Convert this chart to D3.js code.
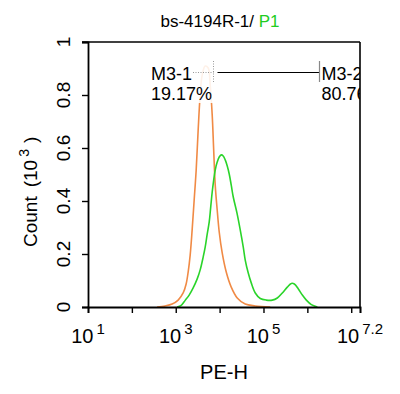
<!DOCTYPE html>
<html><head><meta charset="utf-8">
<script src="https://cdn.jsdelivr.net/npm/d3@7"></script>
<style>
body{margin:0;background:#fff;}
text{font-family:"Liberation Sans",Arial,sans-serif;fill:#000;}
</style></head>
<body><svg id="c" width="400" height="394"></svg>
<script>
// Data (x in log10 units of PE-H, y in counts x10^3)
const controlX = [2.575,2.758,2.918,3.055,3.169,3.237,3.283,3.329,3.374,3.420,3.466,3.511,3.557,3.603,3.671,3.740,3.785,3.831,3.865,3.900,3.945,3.991,4.059,4.151,4.265,4.402,4.584,4.813,5.155];
const controlY = [0,0.004,0.011,0.026,0.053,0.087,0.132,0.196,0.291,0.404,0.517,0.668,0.800,0.875,0.909,0.902,0.838,0.725,0.592,0.460,0.366,0.283,0.204,0.132,0.075,0.034,0.011,0.004,0];
const sampleX = [3.032,3.123,3.215,3.306,3.397,3.489,3.557,3.626,3.671,3.717,3.763,3.797,3.831,3.865,3.900,3.945,3.991,4.037,4.082,4.128,4.174,4.219,4.265,4.311,4.395,4.470,4.539,4.584,4.653,4.721,4.813,4.927,5.064,5.201,5.315,5.429,5.543,5.635,5.703,5.795,5.886,5.977,6.091,6.228];
const sampleY = [0,0.006,0.025,0.045,0.072,0.106,0.140,0.189,0.226,0.275,0.321,0.377,0.434,0.479,0.517,0.547,0.566,0.574,0.570,0.555,0.532,0.502,0.460,0.415,0.355,0.291,0.226,0.177,0.128,0.091,0.053,0.032,0.026,0.026,0.034,0.053,0.075,0.089,0.087,0.068,0.045,0.026,0.009,0];
const xTickExps = ["1","3","5","7.2"];
const yTicks = [0,0.2,0.4,0.6,0.8,1];
const gateNames = ["M3-1","M3-2"];
const gatePcts = ["19.17%","80.76%"];
const gateEdges = [3.85, 6.27]; // log10 positions of gate edges

const svg = d3.select("#c");
const L=88,R=360,T=42,B=307;
const x = d3.scaleLog().domain([10, Math.pow(10,7.2)]).range([L,R]);
const y = d3.scaleLinear().domain([0,1]).range([B,T]);

// title
const title = svg.append("text").attr("x",220).attr("y",27).attr("text-anchor","middle").style("font-size","17px");
title.append("tspan").text("bs-4194R-1/ ");
title.append("tspan").style("fill","#22cc22").text("P1");

svg.append("defs").append("clipPath").attr("id","pc").append("rect").attr("x",L).attr("y",T).attr("width",R-L).attr("height",B-T);

const g = svg.append("g").attr("clip-path","url(#pc)");
const line = d3.line().x(d=>x(Math.pow(10,d[0]))).y(d=>y(d[1])).curve(d3.curveCatmullRom.alpha(0.5));
g.append("path").datum(d3.zip(controlX,controlY)).attr("d",line).attr("fill","none").attr("stroke","#f08a45").attr("stroke-width",1.6);
g.append("path").datum(d3.zip(sampleX,sampleY)).attr("d",line).attr("fill","none").attr("stroke","#2ad42a").attr("stroke-width",1.6);

// gate labels with translucent background
const gx1 = Math.round(x(Math.pow(10,gateEdges[0])))+0.5, gx2 = Math.round(x(Math.pow(10,gateEdges[1])))+0.5;
g.append("rect").attr("x",150).attr("y",58).attr("width",gx1-150).attr("height",45).attr("fill","#fff").attr("opacity",0.88);
g.append("line").attr("x1",gx1).attr("x2",gx1).attr("y1",61).attr("y2",82).attr("stroke","#999").attr("stroke-width",1).attr("stroke-dasharray","1,1.5");
g.append("line").attr("x1",193).attr("x2",gx1).attr("y1",72.5).attr("y2",72.5).attr("stroke","#999").attr("stroke-width",1).attr("stroke-dasharray","1,1.5");
g.append("line").attr("x1",gx1+4).attr("x2",gx2).attr("y1",72.5).attr("y2",72.5).attr("stroke","#000").attr("stroke-width",1.2);
g.append("line").attr("x1",gx2).attr("x2",gx2).attr("y1",61).attr("y2",82).attr("stroke","#888").attr("stroke-width",1.2);
g.append("text").attr("x",151).attr("y",80).style("font-size","18px").text(gateNames[0]);
g.append("text").attr("x",151).attr("y",100).style("font-size","18px").text(gatePcts[0]);
g.append("text").attr("x",gx2+2).attr("y",80).style("font-size","18px").text(gateNames[1]);
g.append("text").attr("x",gx2+2).attr("y",100).style("font-size","18px").text(gatePcts[1]);

// frame
svg.append("line").attr("x1",L-6).attr("x2",R).attr("y1",T).attr("y2",T).attr("stroke","#000").attr("stroke-width",1.6);
svg.append("line").attr("x1",R).attr("x2",R).attr("y1",T).attr("y2",B).attr("stroke","#000").attr("stroke-width",1.6);

// x axis
const xMajor = d3.range(1,8).map(e=>Math.pow(10,e));
const xMinor = [];
for(let e=1;e<=7;e++) for(let k=2;k<=9;k++){const v=k*Math.pow(10,e); if(v<=Math.pow(10,7.2)) xMinor.push(v);}
const xa = svg.append("g").attr("transform",`translate(0,${B})`);
xa.call(d3.axisBottom(x).tickValues(xMinor).tickSize(3).tickFormat("")).call(s=>s.select(".domain").remove());
xa.call(d3.axisBottom(x).tickValues(xMajor.concat([Math.pow(10,7.2)])).tickSize(6).tickFormat(""));
xa.selectAll(".domain").attr("stroke-width",1.8);
xa.selectAll("line").attr("stroke-width",1.4);
xTickExps.forEach(e=>{
  const t = svg.append("text").attr("x",x(Math.pow(10,+e))).attr("y",343).attr("text-anchor","middle").style("font-size","20px");
  t.append("tspan").text("10");
  t.append("tspan").attr("dx",3).attr("dy",-9).style("font-size","15px").text(e);
});
svg.append("text").attr("x",224).attr("y",379).attr("text-anchor","middle").style("font-size","20px").text("PE-H");

// y axis
const yMinor = d3.range(0,30).map(i=>i/30).filter(v=>Math.round(v*30)%6!==0);
const ya = svg.append("g").attr("transform",`translate(${L},0)`);
ya.call(d3.axisLeft(y).tickValues(yMinor).tickSize(3).tickFormat("")).call(s=>s.select(".domain").remove());
ya.call(d3.axisLeft(y).tickValues(yTicks).tickSize(6).tickFormat(""));
ya.selectAll(".domain").attr("stroke-width",1.8);
ya.selectAll("line").attr("stroke-width",1.4);
yTicks.forEach(v=>{
  svg.append("text").attr("transform",`translate(70,${y(v)}) rotate(-90)`).attr("text-anchor","middle").style("font-size","19px").text(String(v));
});
const yl = svg.append("text").attr("transform","translate(37,247) rotate(-90)").attr("text-anchor","start").style("font-size","19px");
yl.append("tspan").text("Count");
yl.append("tspan").attr("dx",9).text("(10");
yl.append("tspan").attr("dx",3).attr("dy",-8).style("font-size","14px").text("3");
yl.append("tspan").attr("dx",6).attr("dy",8).text(")");
</script></body></html>
